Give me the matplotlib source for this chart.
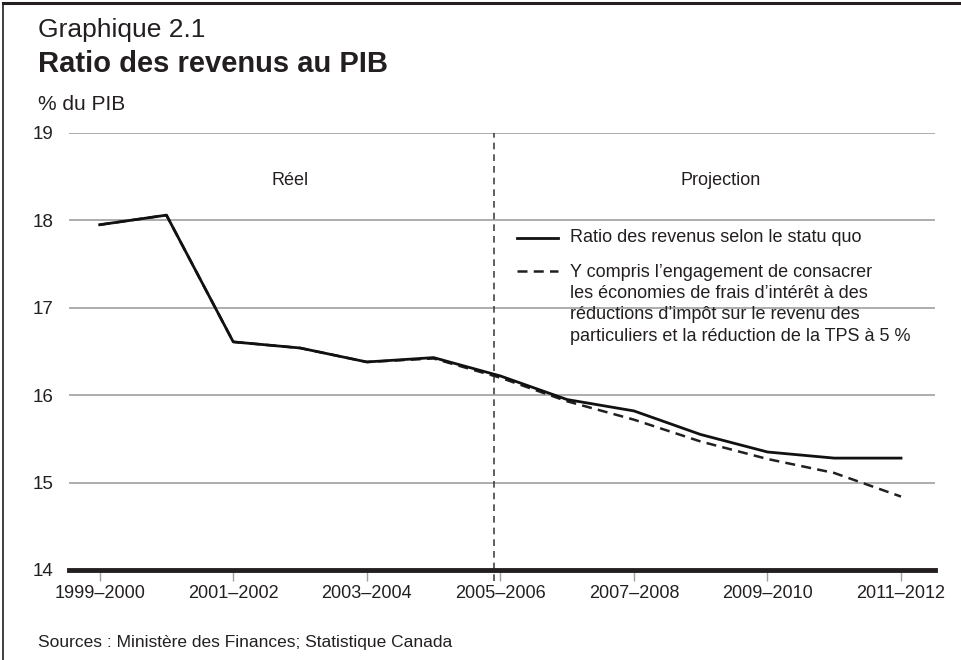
# Graphique 2.1 - ratio des revenus au PIB

import matplotlib.pyplot as plt
from matplotlib.lines import Line2D

plt.rcParams['font.family'] = ['Liberation Sans', 'DejaVu Sans']

# exercices (un point par année)
years = ["1999–2000", "2000–2001", "2001–2002", "2002–2003", "2003–2004", "2004–2005",
         "2005–2006", "2006–2007", "2007–2008", "2008–2009", "2009–2010", "2010–2011",
         "2011–2012"]

# % du PIB
statu_quo = [17.95, 18.06, 16.61, 16.54, 16.38, 16.43, 16.22, 15.95, 15.82, 15.55, 15.35, 15.28, 15.28]
avec_engagement = [17.95, 18.06, 16.61, 16.54, 16.38, 16.42, 16.20, 15.93, 15.72, 15.47, 15.27, 15.11, 14.84]

yticks = [14, 15, 16, 17, 18, 19]
label_solid = "Ratio des revenus selon le statu quo"
label_dash = ("Y compris l’engagement de consacrer\n"
              "les économies de frais d’intérêt à des\n"
              "réductions d’impôt sur le revenu des\n"
              "particuliers et la réduction de la TPS à 5 %")

txt = '#231f20'
x = list(range(len(years)))

fig = plt.figure(figsize=(9.62, 6.6), dpi=100)
ax = fig.add_axes([0.0717, 0.1364, 0.9003, 0.6621])

for v in yticks[1:]:
    ax.axhline(v, color='#a0a0a0', lw=1.2, zorder=1)
ax.axhline(14, color='#231f20', lw=3.5, zorder=4, clip_on=False)

# séparation réel / projection
ax.axvline(years.index("2005–2006") - 0.1, ymin=-0.025, ymax=1, color='#444444', lw=1.2,
           linestyle=(0, (4, 3)), zorder=2, clip_on=False)

ax.plot(x, avec_engagement, color='#231f20', lw=1.8, linestyle=(0, (4, 2.5)), zorder=3)
ax.plot(x, statu_quo, color='#111111', lw=2.0, zorder=3)

ax.set_xlim(-0.46, 12.51)
ax.set_ylim(14, 19)
ax.set_yticks(yticks)
ax.set_xticks(x[::2])
ax.set_xticklabels(years[::2])
ax.tick_params(axis='y', length=0, pad=11, labelsize=13.5, labelcolor=txt)
ax.tick_params(axis='x', length=8, width=1, color='#a0a0a0', pad=3, labelsize=13, labelcolor=txt)
for s in ax.spines.values():
    s.set_visible(False)

ax.text(0.255, 0.892, "Réel", transform=ax.transAxes, ha='center', va='center',
        fontsize=13, color=txt)
ax.text(0.752, 0.892, "Projection", transform=ax.transAxes, ha='center', va='center',
        fontsize=13, color=txt)

# légende faite à la main
ax.add_line(Line2D([0.517, 0.565], [0.760, 0.760], transform=ax.transAxes,
                   color='#111111', lw=2.0))
ax.add_line(Line2D([0.517, 0.565], [0.684, 0.684], transform=ax.transAxes,
                   color='#231f20', lw=1.8, linestyle=(0, (4, 2.5))))
ax.text(0.5785, 0.760, label_solid, transform=ax.transAxes, ha='left', va='center',
        fontsize=13, color=txt)
ax.text(0.5785, 0.700, label_dash, transform=ax.transAxes, ha='left', va='top',
        fontsize=13, color=txt, linespacing=1.32)

# titres
fig.text(0.0395, 0.944, "Graphique 2.1", fontsize=19, color=txt, va='baseline')
fig.text(0.0395, 0.891, "Ratio des revenus au PIB", fontsize=21, fontweight='bold',
         color=txt, va='baseline')
fig.text(0.0395, 0.8333, "% du PIB", fontsize=15, color=txt, va='baseline')
fig.text(0.0395, 0.0197, "Sources : Ministère des Finances; Statistique Canada",
         fontsize=12.5, color=txt, va='baseline')

# cadre
fig.add_artist(Line2D([0.003, 0.003], [0, 0.995], transform=fig.transFigure,
                      color='#231f20', lw=1.2))
fig.add_artist(Line2D([0.003, 1], [0.995, 0.995], transform=fig.transFigure,
                      color='#231f20', lw=2.2))

fig.savefig('out.png', dpi=100)
